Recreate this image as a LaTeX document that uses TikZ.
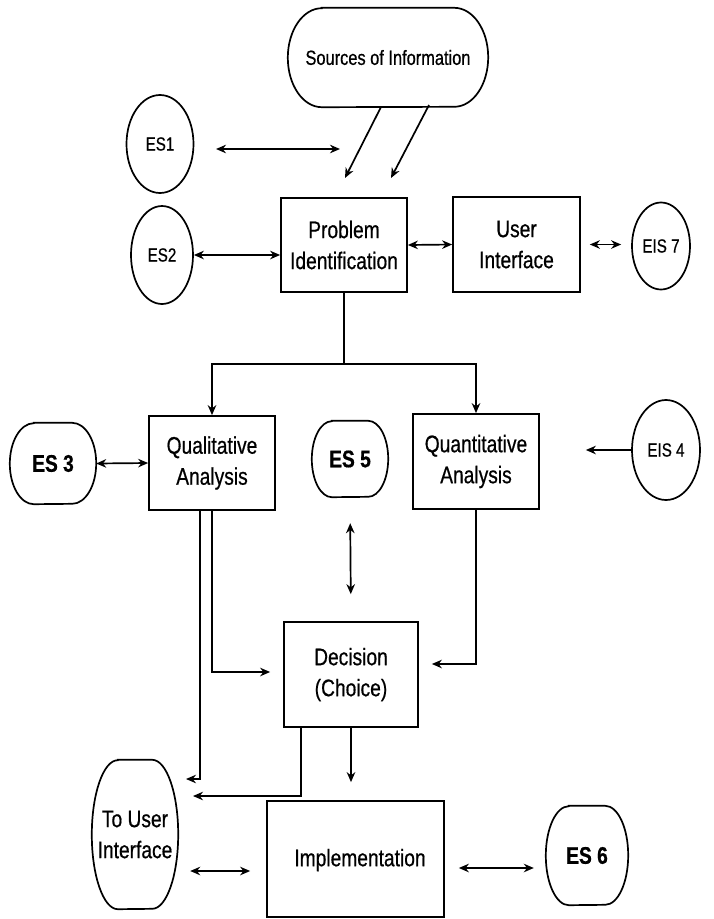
\documentclass[tikz,border=0pt]{standalone}
\usepackage{fontspec}
\setmainfont{Liberation Sans}[FakeStretch=0.8,FakeBold=0.6]
\usetikzlibrary{arrows.meta,shapes.geometric,calc}
\newcommand{\stadiumline}[3]{% node, x radius, half height
  \draw[boxline] ([xshift=#2pt]#1.north west) -- ([xshift=-#2pt]#1.north east)
    arc[start angle=90,end angle=-90,x radius=#2pt,y radius=#3pt]
    -- ([xshift=#2pt]#1.south west)
    arc[start angle=270,end angle=90,x radius=#2pt,y radius=#3pt] -- cycle;}
\begin{document}
\begin{tikzpicture}[x=1pt,y=-1pt,
  boxline/.style={line width=1.7pt},
  procbox/.style={draw,boxline,rectangle,align=center,font=\fontsize{24}{31}\selectfont,inner sep=0pt},
  esell/.style={draw,boxline,ellipse,inner sep=0pt,font=\fontsize{19}{22}\selectfont},
  stad/.style={rectangle,inner sep=0pt,align=center,font=\fontsize{24}{31}\selectfont},
  conn/.style={line width=1.7pt},
  arr/.style={conn,-{Stealth[length=10pt,width=8.5pt]}},
  darr/.style={conn,{Stealth[length=10pt,width=8.5pt]}-{Stealth[length=10pt,width=8.5pt]}}]
\useasboundingbox[fill=white] (0,0) rectangle (714,919);

% nodes
\node[stad,minimum width=200pt,minimum height=99pt,font=\fontsize{20.5}{24}\selectfont] (src) at (388,57.5) {Sources of Information};
\stadiumline{src}{34}{49.5}
\node[esell,minimum width=67pt,minimum height=98pt] (es1) at (160,144) {ES1};
\node[esell,minimum width=62pt,minimum height=98pt] (es2) at (162,255) {ES2};
\node[procbox,minimum width=126pt,minimum height=94pt] (pi) at (344,245) {Problem\\Identification};
\node[procbox,minimum width=127pt,minimum height=95pt] (ui) at (516.5,244.5) {User\\Interface};
\node[esell,minimum width=58pt,minimum height=87pt] (eis7) at (661,246) {EIS 7};
\node[procbox,minimum width=126pt,minimum height=94pt] (qual) at (212,463) {Qualitative\\Analysis};
\node[stad,minimum width=86pt,minimum height=81pt,font=\fontsize{24}{31}\bfseries\selectfont] (es3) at (53,463.5) {ES 3};
\stadiumline{es3}{24}{40.5}
\node[stad,minimum width=76pt,minimum height=76pt,font=\fontsize{24}{31}\bfseries\selectfont] (es5) at (350,459) {ES 5};
\stadiumline{es5}{20}{38}
\node[procbox,minimum width=126pt,minimum height=95pt] (quant) at (476,461.5) {Quantitative\\Analysis};
\node[esell,minimum width=68pt,minimum height=100pt] (eis4) at (666,450) {EIS 4};
\node[procbox,minimum width=134pt,minimum height=105pt] (dec) at (351,674.5) {Decision\\(Choice)};
\node[stad,minimum width=86pt,minimum height=149pt] (tui) at (135,834.5) {To User\\Interface};
\stadiumline{tui}{26}{74.5}
\node[procbox,minimum width=177pt,minimum height=116pt] (impl) at (355.5,859) {};
\node[font=\fontsize{24}{31}\selectfont] (impltext) at (360,860) {Implementation};
\node[stad,minimum width=82pt,minimum height=99pt,font=\fontsize{24}{31}\bfseries\selectfont] (es6) at (587,855.5) {ES 6};
\stadiumline{es6}{23}{49.5}

% free ends
\coordinate (s1a) at (381,107);
\coordinate (s1b) at (345,178);
\coordinate (s2a) at (429,105);
\coordinate (s2b) at (391,178);
\coordinate (e1a) at (216,149);
\coordinate (e1b) at (340,149);
\coordinate (bus) at (344,364);
\coordinate (t1) at (186,779);
\coordinate (t2) at (193,796);
\coordinate (y871) at (0,871);
\coordinate (y868) at (0,868);

% connectors
\draw[arr] (s1a) -- (s1b);
\draw[arr] (s2a) -- (s2b);
\draw[darr] (e1a) -- (e1b);
\draw[darr] (es2.east) -- (es2.east -| pi.west);
\draw[darr] (pi.east) -- (ui.west);
\draw[darr,shorten <=9pt,shorten >=10pt] (ui.east) -- (ui.east -| eis7.west);
\draw[conn] (pi.south) -- (bus);
\draw[arr] (bus) -| (qual.north);
\draw[arr] (bus) -| (quant.north);
\draw[darr] (es3.east) -- (qual.west);
\draw[darr,shorten <=26pt,shorten >=27pt] (es5.south) -- (dec.north);
\draw[arr,shorten >=46pt] (eis4.west) -- (eis4.west -| quant.east);
\draw[arr,shorten >=13pt] (qual.south) |- ($(dec.west)+(0,-2.5)$);
\draw[arr] ([xshift=-12pt]qual.south) |- (t1);
\draw[arr,shorten >=13pt] (quant.south) |- ($(dec.east)+(0,-10.5)$);
\draw[arr] ([xshift=-50pt]dec.south) |- (t2);
\draw[arr,shorten >=18pt] (dec.south) -- (impl.north -| dec.south);
\draw[darr,shorten <=12pt,shorten >=16pt] (tui.east |- y871) -- (impl.west |- y871);
\draw[darr,shorten <=14pt,shorten >=12pt] (impl.east |- y868) -- (es6.west |- y868);
\end{tikzpicture}
\end{document}
